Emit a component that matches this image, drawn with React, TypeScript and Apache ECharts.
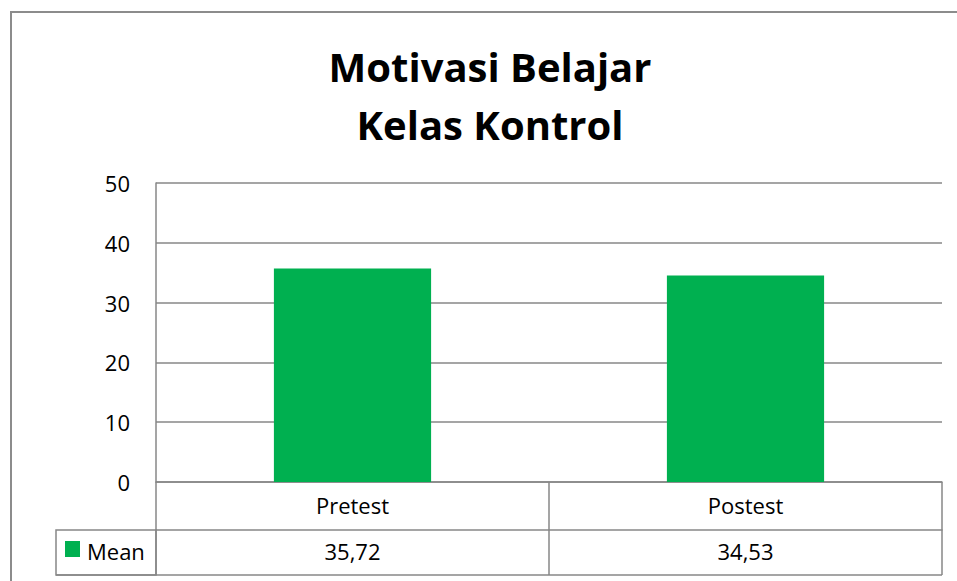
import React, { useEffect, useRef } from "react";
import * as echarts from "echarts";

const categories = ["Pretest", "Postest"];
const meanValues = [35.72, 34.53];
const seriesName = "Mean";
const titleLines = ["Motivasi Belajar", "Kelas Kontrol"];
const yTicks = { min: 0, max: 50, interval: 10 };

const fmt = (v: number) => v.toFixed(2).replace(".", ",");

export default function App() {
  const ref = useRef<HTMLDivElement>(null);
  useEffect(() => {
    const chart = echarts.init(ref.current!, null, { renderer: "svg" });
    const font = "'Open Sans', sans-serif";
    const gray = "#878787";
    chart.setOption({
      animation: false,
      grid: { left: 156, right: 15, top: 183, bottom: 99, containLabel: false },
      graphic: [
        { type: "line", shape: { x1: 11, y1: 12, x2: 11, y2: 581 }, style: { stroke: "#8c8c8c", lineWidth: 2 } },
        { type: "line", shape: { x1: 10, y1: 12, x2: 957, y2: 12 }, style: { stroke: "#8c8c8c", lineWidth: 2 } },
        { type: "text", x: 490, y: 66, style: { text: titleLines[0], font: `bold 40px ${font}`, fill: "#000", align: "center", verticalAlign: "middle" } },
        { type: "text", x: 490, y: 124, style: { text: titleLines[1], font: `bold 40px ${font}`, fill: "#000", align: "center", verticalAlign: "middle" } },
        { type: "rect", shape: { x: 56, y: 530, width: 100, height: 45 }, style: { fill: "none", stroke: gray, lineWidth: 1.5 } },
        { type: "line", shape: { x1: 56, y1: 575, x2: 942, y2: 575 }, style: { stroke: gray, lineWidth: 1.5 } },
        { type: "rect", shape: { x: 65, y: 541, width: 15, height: 16 }, style: { fill: "#00B050" } },
        { type: "text", x: 87, y: 551, style: { text: seriesName, font: `22px ${font}`, fill: "#000", verticalAlign: "middle" } },
      ],
      xAxis: [
        {
          type: "category",
          data: categories,
          position: "bottom",
          axisLine: { show: true, lineStyle: { color: gray, width: 1.5 } },
          axisTick: { show: true, length: 93, alignWithLabel: false, lineStyle: { color: gray, width: 1.5 } },
          axisLabel: { margin: 12, fontSize: 22, color: "#000", fontFamily: font },
        },
        {
          type: "category",
          data: meanValues.map(fmt),
          position: "bottom",
          offset: 48,
          axisLine: { show: true, lineStyle: { color: gray, width: 1.5 } },
          axisTick: { show: false },
          axisLabel: { margin: 10, fontSize: 22, color: "#000", fontFamily: font },
        },
      ],
      yAxis: {
        type: "value",
        min: yTicks.min,
        max: yTicks.max,
        interval: yTicks.interval,
        axisLine: { show: true, lineStyle: { color: gray, width: 1.5 } },
        axisTick: { show: false },
        splitLine: { lineStyle: { color: gray, width: 1.5 } },
        axisLabel: { margin: 26, fontSize: 22, color: "#000", fontFamily: font },
      },
      series: [
        {
          name: seriesName,
          type: "bar",
          data: meanValues,
          barWidth: "40%",
          itemStyle: { color: "#00B050" },
          xAxisIndex: 0,
        },
      ],
    });
    return () => chart.dispose();
  }, []);
  return <div ref={ref} style={{ width: 957, height: 581, position: "absolute", left: 0, top: 0 }} />;
}
